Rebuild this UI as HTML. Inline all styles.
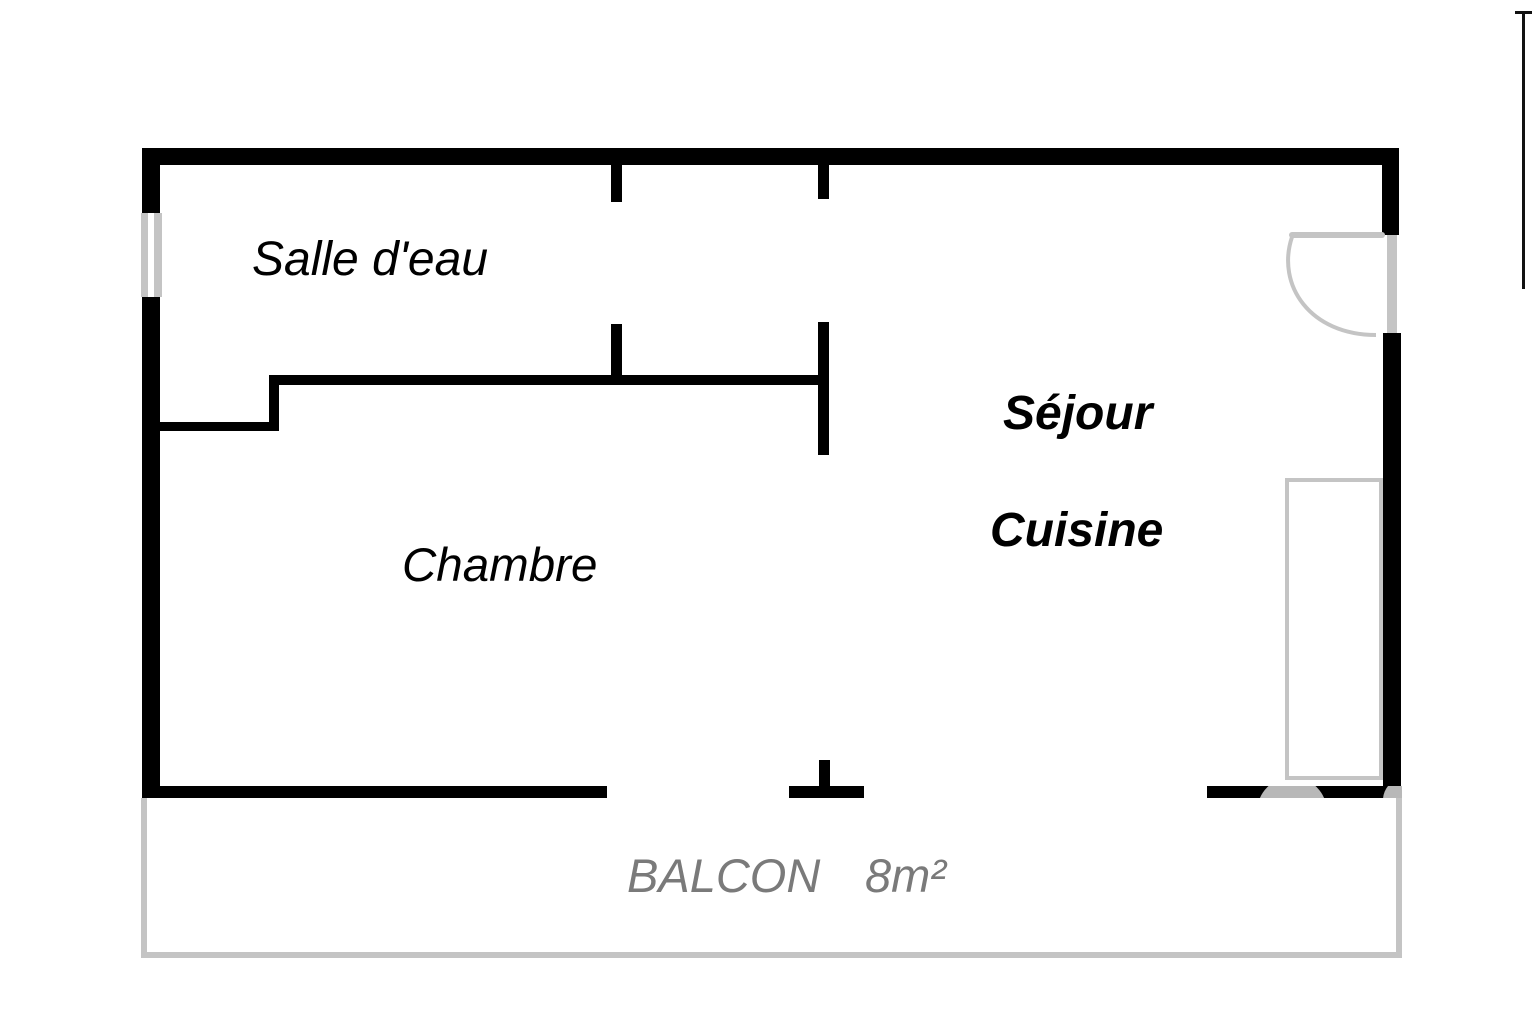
<!DOCTYPE html>
<html><head><meta charset="utf-8"><style>
html,body{margin:0;padding:0;background:#fff;}
svg{display:block;}
text{font-family:"Liberation Sans",Arial,sans-serif;font-style:italic;}
</style></head><body>
<svg width="1536" height="1024" viewBox="0 0 1536 1024" xmlns="http://www.w3.org/2000/svg">
<defs><clipPath id="wb"><rect x="1200" y="786" width="202" height="12"/></clipPath></defs>
<rect width="1536" height="1024" fill="#fff"/>
<!-- balcony -->
<path d="M144 798 L144 955 L1399 955 L1399 798" fill="none" stroke="#c4c4c4" stroke-width="6"/>
<!-- scale line -->
<rect x="1522" y="13" width="3" height="276" fill="#111"/>
<rect x="1515" y="11" width="17" height="3" fill="#111"/>
<g fill="#000">
<rect x="142" y="148" width="1257" height="17"/>
<rect x="142" y="148" width="18" height="65"/>
<rect x="142" y="297" width="18" height="501"/>
<rect x="1382" y="148" width="17" height="87"/>
<rect x="1383" y="333" width="18" height="465"/>
<rect x="142" y="786" width="465" height="12"/>
<rect x="789" y="786" width="75" height="12"/>
<rect x="819" y="760" width="11" height="27"/>
<rect x="1207" y="786" width="192" height="12"/>
<rect x="611" y="165" width="11" height="37"/>
<rect x="611" y="324" width="11" height="55"/>
<rect x="818" y="165" width="11" height="34"/>
<rect x="818" y="322" width="11" height="133"/>
<rect x="269" y="375" width="560" height="10"/>
<rect x="269" y="375" width="10" height="56"/>
<rect x="160" y="422" width="119" height="9"/>
</g>
<rect x="141" y="213" width="7" height="84" fill="#c4c4c4"/>
<rect x="154" y="213" width="8" height="84" fill="#c4c4c4"/>
<rect x="1387" y="235" width="10" height="98" fill="#c4c4c4"/>
<path d="M1292 235 L1382 235" stroke="#c4c4c4" stroke-width="6" fill="none" stroke-linecap="round"/>
<path d="M1292 237 C1276 285 1310 335 1376 335" stroke="#c4c4c4" stroke-width="4" fill="none"/>
<rect x="1287" y="480" width="94" height="298" fill="none" stroke="#c4c4c4" stroke-width="4"/>
<g clip-path="url(#wb)" fill="#b8b8b8">
<circle cx="1292" cy="812" r="35"/>
<circle cx="1405" cy="800" r="22"/>
</g>
<text x="252" y="275" font-size="48" fill="#000">Salle d'eau</text>
<text x="402" y="581" font-size="47.5" fill="#000">Chambre</text>
<text x="1003" y="429" font-size="48" font-weight="bold" fill="#000">Séjour</text>
<text x="990" y="546" font-size="48" font-weight="bold" fill="#000">Cuisine</text>
<text x="627" y="892" font-size="47" fill="#7a7a7a">BALCON</text>
<text x="865" y="892" font-size="47" fill="#7a7a7a">8m²</text>
</svg>
</body></html>
